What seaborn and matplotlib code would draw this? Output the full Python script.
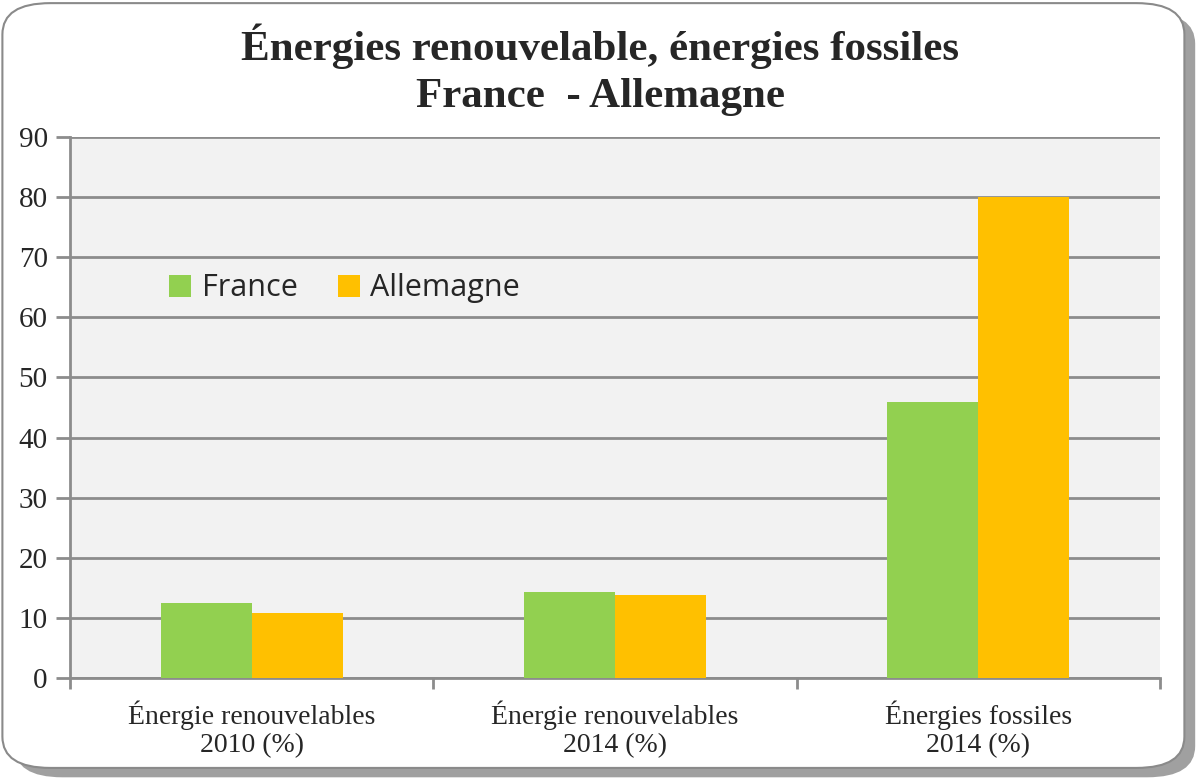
import pandas as pd
import numpy as np
import matplotlib.pyplot as plt
import seaborn as sns
from matplotlib.patches import FancyBboxPatch

# Data
categories = ['Énergie renouvelables\n2010 (%)', 'Énergie renouvelables\n2014 (%)', 'Énergies fossiles\n2014 (%)']
france = [12.5, 14.3, 45.9]
allemagne = [10.8, 13.8, 80.0]
countries = ['France', 'Allemagne']

df = pd.DataFrame({
    'categorie': categories * 2,
    'pays': ['France'] * 3 + ['Allemagne'] * 3,
    'valeur': france + allemagne,
})

sns.set_style('white')
plt.rcParams['font.family'] = ['Liberation Serif', 'DejaVu Serif']

fig = plt.figure(figsize=(12, 7.82), dpi=100)

# rounded frame with shadow
shadow = FancyBboxPatch((0.012, 0.006), 0.984, 0.978, boxstyle='round,pad=0,rounding_size=0.04',
                        transform=fig.transFigure, facecolor='#a0a0a0', edgecolor='none', zorder=0)
frame = FancyBboxPatch((0.002, 0.018), 0.985, 0.978, boxstyle='round,pad=0,rounding_size=0.04',
                       transform=fig.transFigure, facecolor='white', edgecolor='#8a8a8a', linewidth=1.5, zorder=1)
fig.patches.extend([shadow, frame])

ax = fig.add_axes([70 / 1200, 1 - 678 / 782, 1090 / 1200, 541 / 782])
ax.set_zorder(2)
ax.set_facecolor('#f2f2f2')

palette = {'France': '#92D050', 'Allemagne': '#FFC000'}
sns.barplot(data=df, x='categorie', y='valeur', hue='pays', hue_order=countries,
            palette=palette, width=0.5, saturation=1, linewidth=0, ax=ax, zorder=3)

ax.set_ylim(0, 90)
ax.set_xlim(-0.5, 2.5)
ax.set_yticks(range(0, 91, 10))
ax.yaxis.grid(True, color='#8c8c8c', linewidth=2, zorder=1)
ax.set_axisbelow(True)
ax.set_xlabel('')
ax.set_ylabel('')

for s in ['top', 'right']:
    ax.spines[s].set_visible(False)
for s in ['left', 'bottom']:
    ax.spines[s].set_color('#8c8c8c')
    ax.spines[s].set_linewidth(2)

ax.tick_params(axis='y', length=10, width=2, color='#8c8c8c', labelsize=21, pad=6, left=True)
ax.tick_params(axis='x', length=0, labelsize=20, pad=16)
ax.set_xticks([-0.5, 0.5, 1.5, 2.5], minor=True)
ax.tick_params(axis='x', which='minor', length=8, width=2, color='#8c8c8c', bottom=True)

leg = ax.legend(loc='center left', bbox_to_anchor=(0.066, 0.72), ncol=2, frameon=False,
                handlelength=0.72, handleheight=0.72, handletextpad=0.35, columnspacing=1.3,
                prop={'family': 'Open Sans', 'size': 22})

fig.text(0.5, 0.911, 'Énergies renouvelable, énergies fossiles\nFrance  - Allemagne', ha='center', va='center',
         fontsize=31, fontweight='bold', linespacing=1.3)

fig.savefig('out.png', dpi=100)
